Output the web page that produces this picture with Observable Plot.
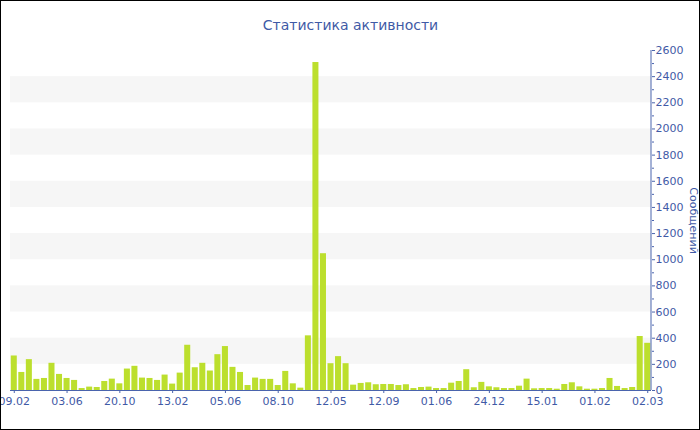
<!DOCTYPE html>
<html>
<head>
<meta charset="utf-8">
<script src="https://cdn.jsdelivr.net/npm/d3@7"></script>
<script src="https://cdn.jsdelivr.net/npm/@observablehq/plot@0.6"></script>
<style>
  html, body { margin: 0; padding: 0; background: #fff; }
  #chart svg { display: block; outline: 1px solid #000; outline-offset: -1px; }
</style>
</head>
<body>
<div id="chart"></div>
<script>
// ---- data ----
const title = "Статистика активности";
const yLabel = "Сообщений";
const values = [
  264, 138, 236, 85, 92, 208, 123, 92, 77, 15,
  26, 23, 69, 87, 51, 164, 185, 95, 92, 77,
  118, 49, 133, 346, 174, 208, 149, 274, 336, 177,
  138, 38, 95, 85, 85, 38, 146, 51, 18, 418,
  2508, 1046, 205, 259, 205, 41, 54, 59, 44, 46,
  46, 38, 44, 15, 23, 26, 15, 15, 56, 69,
  159, 21, 62, 28, 21, 15, 15, 33, 87, 13,
  15, 15, 10, 46, 59, 28, 10, 10, 15, 92,
  31, 15, 23, 413, 361
];
const tickLabels = ["09.02", "03.06", "20.10", "13.02", "05.06", "08.10", "12.05",
                    "12.09", "01.06", "24.12", "15.01", "01.02", "02.03"];
const tickBars = [0, 7, 14, 21, 28, 35, 42, 49, 56, 63, 70, 77, 84];
const yMajor = [0, 200, 400, 600, 800, 1000, 1200, 1400, 1600, 1800, 2000, 2200, 2400, 2600];
const yMinor = [100, 300, 500, 700, 900, 1100, 1300, 1500, 1700, 1900, 2100, 2300, 2500];
const stripes = [200, 600, 1000, 1400, 1800, 2200];

// ---- layout / style ----
const W = 700, H = 430;
const mL = 10, mR = 49, mT = 50, mB = 40;
const blue = "#3f5aa6";
const axisBlue = "#4a64ad";
const barFill = "#bcdf2d";

const data = values.map((v, i) => ({i, v}));
const labelOf = new Map(tickBars.map((b, k) => [b, tickLabels[k]]));

const rightLine = () => {
  const g = d3.create("svg:g");
  g.append("line")
    .attr("x1", W - mR).attr("x2", W - mR)
    .attr("y1", mT).attr("y2", H - mB)
    .attr("stroke", axisBlue).attr("stroke-width", 1);
  return g.node();
};

const chart = Plot.plot({
  width: W,
  height: H,
  marginLeft: mL,
  marginRight: mR,
  marginTop: mT,
  marginBottom: mB,
  style: {fontFamily: "DejaVu Sans", fontSize: "11px", color: blue, background: "#fff"},
  x: {type: "band", domain: data.map(d => d.i), paddingInner: 0.2, paddingOuter: 0.1, axis: null},
  y: {domain: [0, 2600], axis: null},
  marks: [
    Plot.rect(stripes, {y1: d => d, y2: d => d + 200, fill: "#f6f6f6"}),
    Plot.barY(data, {x: "i", y: "v", fill: barFill}),
    Plot.ruleY([0], {stroke: axisBlue}),
    rightLine,
    Plot.axisX({
      anchor: "bottom", ticks: tickBars, tickFormat: d => labelOf.get(d),
      tickSize: 3, tickPadding: 4, stroke: axisBlue, fill: blue, fontSize: 11, label: null
    }),
    Plot.axisY({
      anchor: "right", ticks: yMajor, tickSize: 3, tickPadding: 1,
      stroke: axisBlue, fill: blue, fontSize: 11, label: null, tickFormat: d => String(d)
    }),
    Plot.axisY({
      anchor: "right", ticks: yMinor, tickSize: 2, tickFormat: () => "",
      stroke: axisBlue, label: null
    }),
    Plot.text([title], {
      frameAnchor: "top", dx: (W / 2) - (mL + (W - mL - mR) / 2), dy: -25,
      lineAnchor: "middle", fontSize: 14, fill: blue
    }),
    Plot.text([yLabel], {
      frameAnchor: "right", dx: 42, rotate: 90, lineAnchor: "middle",
      textAnchor: "middle", fontSize: 11, fill: blue
    })
  ]
});

document.getElementById("chart").append(chart);
</script>
</body>
</html>
